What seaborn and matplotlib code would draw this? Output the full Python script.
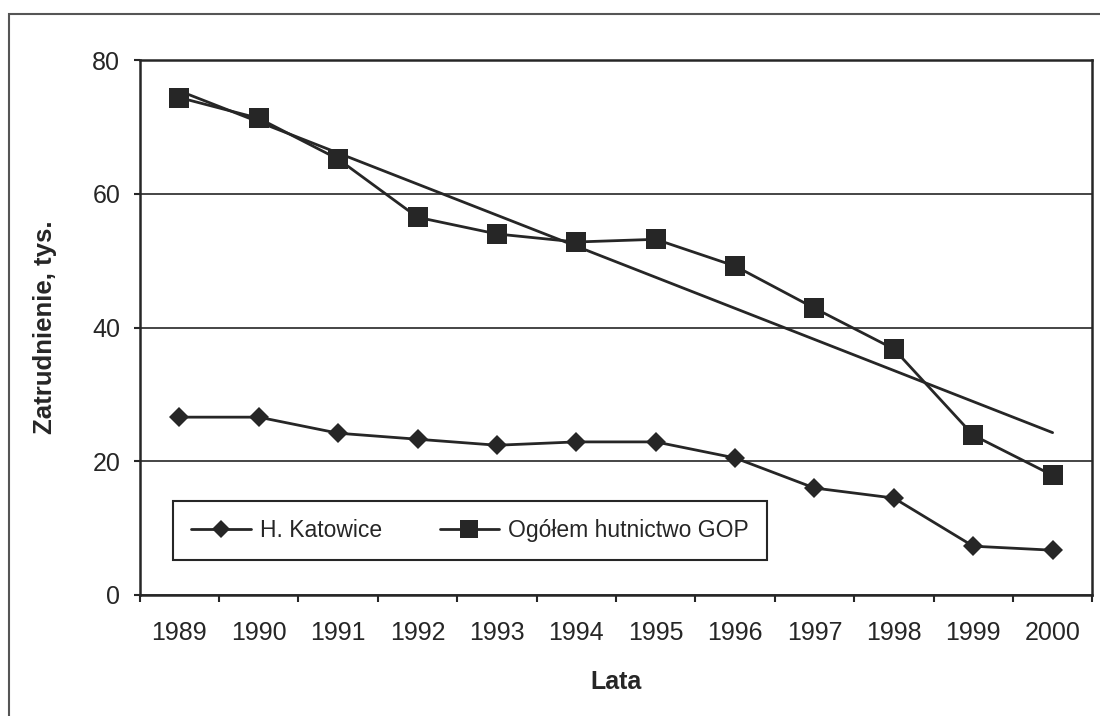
import matplotlib
matplotlib.use("Agg")
import matplotlib.pyplot as plt
import seaborn as sns
import numpy as np
import pandas as pd
from matplotlib.patches import Rectangle
from matplotlib.ticker import FixedLocator

# ---- data ----
years = [1989, 1990, 1991, 1992, 1993, 1994, 1995, 1996, 1997, 1998, 1999, 2000]
katowice = [26.6, 26.6, 24.2, 23.3, 22.4, 22.9, 22.9, 20.5, 16.0, 14.5, 7.3, 6.7]
ogolem = [74.4, 71.3, 65.2, 56.5, 54.0, 52.8, 53.2, 49.2, 42.9, 36.8, 23.9, 17.9]
series_names = ["H. Katowice", "Ogółem hutnictwo GOP"]
y_ticks = [0, 20, 40, 60, 80]
x_label = "Lata"
y_label = "Zatrudnienie, tys."

sns.set_style("white")
plt.rcParams["font.family"] = ["Liberation Sans", "DejaVu Sans"]

ink = "#262626"

df = pd.DataFrame({
    "Rok": years * 2,
    "Wartość": katowice + ogolem,
    "Seria": [series_names[0]] * len(years) + [series_names[1]] * len(years),
})

fig = plt.figure(figsize=(11, 7.16), dpi=100)
ax = fig.add_axes([0.127, 0.169, 0.866, 0.747])

sns.lineplot(data=df, x="Rok", y="Wartość", hue="Seria", style="Seria",
             palette={series_names[0]: ink, series_names[1]: ink},
             markers={series_names[0]: "D", series_names[1]: "s"},
             dashes=False, linewidth=2, markeredgewidth=0, ax=ax)
for line in ax.get_lines():
    if line.get_marker() == "D":
        line.set_markersize(10.5)
    elif line.get_marker() == "s":
        line.set_markersize(14.5)

# linear trend of the total series
sns.regplot(x=years, y=ogolem, scatter=False, ci=None, truncate=True,
            line_kws=dict(color=ink, lw=2), ax=ax)

ax.set_xlim(years[0] - 0.5, years[-1] + 0.5)
ax.set_ylim(y_ticks[0], y_ticks[-1])

ax.set_xticks(years)
ax.set_xticklabels([str(y) for y in years])
ax.xaxis.set_minor_locator(FixedLocator([y - 0.5 for y in years] + [years[-1] + 0.5]))
ax.tick_params(axis="x", which="major", length=0, pad=19, labelsize=18, colors=ink)
ax.tick_params(axis="x", which="minor", length=5, width=1.5, direction="out",
               color=ink, bottom=True)
ax.set_yticks(y_ticks)
ax.tick_params(axis="y", which="major", length=4, width=1.5, direction="out",
               pad=10, labelsize=18, colors=ink, left=True)

ax.yaxis.grid(True, color=ink, lw=1.2)
ax.xaxis.grid(False)
for s in ax.spines.values():
    s.set_visible(True)
    s.set_color(ink)
    s.set_linewidth(1.8)

ax.set_xlabel(x_label, fontsize=18, fontweight="bold", color=ink)
ax.set_ylabel(y_label, fontsize=18.5, fontweight="bold", color=ink)
ax.xaxis.set_label_coords(0.5, -0.14)
ax.yaxis.set_label_coords(-0.087, 0.5)

handles, labels = ax.get_legend_handles_labels()
leg = ax.legend(handles[:2], labels[:2], loc="lower left",
                bbox_to_anchor=(0.035, 0.065), borderaxespad=0, ncol=2,
                frameon=True, fancybox=False, edgecolor=ink, framealpha=1,
                fontsize=16.5, handlelength=2.6, handletextpad=0.4,
                columnspacing=2.5, borderpad=0.8, markerscale=0.85)
leg.get_frame().set_linewidth(1.5)
for t in leg.get_texts():
    t.set_color(ink)

# outer chart-area border (left and top edges visible)
fig.add_artist(Rectangle((0.008, -0.05), 1.1, 1.031, transform=fig.transFigure,
                         fill=False, edgecolor="#555555", lw=1.5))

fig.savefig("out.png", dpi=100, facecolor="white")
